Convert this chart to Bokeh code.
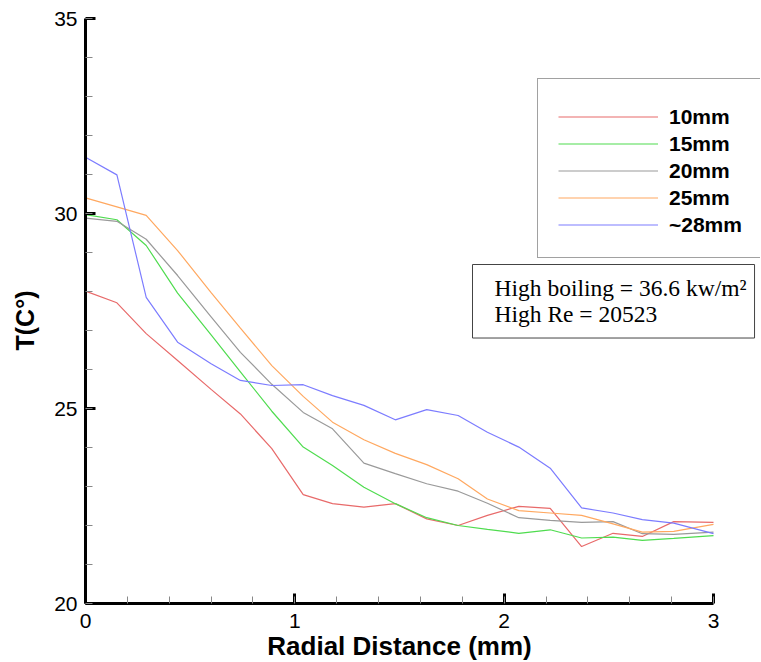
from bokeh.plotting import figure
from bokeh.models import (Range1d, SingleIntervalTicker, Legend, LegendItem, Label, Title)
from bokeh.embed import file_html
from bokeh.resources import INLINE

# radial positions (mm)
x_mm = [0, 0.15, 0.29, 0.44, 0.6, 0.74, 0.89, 1.04, 1.18, 1.33, 1.48,
        1.63, 1.78, 1.92, 2.07, 2.22, 2.37, 2.52, 2.66, 2.81, 3.0]

t_10mm = [28.01, 27.71, 26.92, 26.23, 25.49, 24.86, 23.97, 22.79, 22.56, 22.47, 22.56,
          22.17, 22.0, 22.26, 22.49, 22.44, 21.46, 21.8, 21.72, 22.1, 22.08]
t_15mm = [29.97, 29.84, 29.18, 27.96, 26.89, 25.94, 24.93, 24.01, 23.54, 22.98, 22.56,
          22.2, 22.0, 21.9, 21.8, 21.89, 21.68, 21.7, 21.62, 21.67, 21.74]
t_20mm = [29.88, 29.80, 29.34, 28.41, 27.35, 26.44, 25.62, 24.9, 24.48, 23.6, 23.33,
          23.07, 22.88, 22.57, 22.2, 22.13, 22.08, 22.1, 21.79, 21.77, 21.83]
t_25mm = [30.40, 30.17, 29.95, 29.05, 27.97, 27.06, 26.1, 25.31, 24.65, 24.2, 23.85,
          23.56, 23.2, 22.68, 22.38, 22.32, 22.26, 22.04, 21.83, 21.85, 22.03]
t_28mm = [31.44, 30.99, 27.85, 26.7, 26.15, 25.72, 25.59, 25.61, 25.33, 25.08, 24.71,
          24.97, 24.82, 24.39, 24.01, 23.47, 22.45, 22.32, 22.15, 22.06, 21.79]

series_names = ["10mm", "15mm", "20mm", "25mm", "~28mm"]
series_values = [t_10mm, t_15mm, t_20mm, t_25mm, t_28mm]
series_colors = ["#e86a6a", "#4fdc4f", "#9a9a9a", "#ffa860", "#7c7cff"]

annotation_lines = "High boiling = 36.6 kw/m\u00b2\nHigh Re = 20523"

FONT = "Liberation Sans"

# The drawing area spans nearly the whole page (so the boxes and tick labels are
# not clipped and the x title is centred like the reference); both axes are
# pinned at the data origin and bounded to the data span.
PX_PER_MM = (713 - 85) / 3.0
PX_PER_C = (603 - 18) / 15.0
x_start = -(85 - 38) / PX_PER_MM
x_end = 3 + (760 - 713) / PX_PER_MM
y_start = 20 - (662 - 603) / PX_PER_C
y_end = 35 + 18 / PX_PER_C

p = figure(width=761, height=662, output_backend="svg", toolbar_location=None,
           x_range=Range1d(x_start, x_end), y_range=Range1d(y_start, y_end),
           min_border_left=38, min_border_right=1, min_border_top=0, min_border_bottom=0)
p.outline_line_color = None
p.xgrid.visible = False
p.ygrid.visible = False
p.background_fill_color = "white"
p.border_fill_color = "white"

items = []
for name, vals, col in zip(series_names, series_values, series_colors):
    r = p.line(x_mm, vals, line_color=col, line_width=1.2)
    items.append(LegendItem(label=name, renderers=[r]))

for ax in (p.xaxis[0], p.yaxis[0]):
    ax.axis_line_width = 3
    ax.axis_line_color = "black"
    ax.major_tick_in = 10
    ax.major_tick_out = 0
    ax.major_tick_line_width = 3
    ax.major_tick_line_color = "black"
    ax.minor_tick_in = 7
    ax.minor_tick_out = 0
    ax.minor_tick_line_color = "#888888"
    ax.minor_tick_line_width = 1
    ax.major_label_text_font = FONT
    ax.major_label_text_font_size = "21px"
    ax.major_label_text_color = "black"
    ax.axis_label_text_font = FONT
    ax.axis_label_text_font_style = "bold"
    ax.axis_label_text_font_size = "26px"
    ax.axis_label_text_color = "black"

p.xaxis[0].bounds = (0, 3)
p.yaxis[0].bounds = (20, 35)
p.xaxis[0].fixed_location = 20
p.yaxis[0].fixed_location = 0
p.xaxis[0].ticker = SingleIntervalTicker(interval=1, num_minor_ticks=5)
p.yaxis[0].ticker = SingleIntervalTicker(interval=5, num_minor_ticks=5)
p.xaxis[0].axis_label = "Radial Distance (mm)"
p.xaxis[0].major_label_standoff = 10
p.yaxis[0].major_label_standoff = 8
p.xaxis[0].axis_label_standoff = 0

ytitle = Title(text="T(C\u00b0)", align="left", offset=312, standoff=0,
               text_font=FONT, text_font_style="bold", text_font_size="25px",
               text_color="black")
p.add_layout(ytitle, "left")

legend = Legend(items=items, location=(499, 404),
                title=" ", title_text_font_size="4px", title_standoff=0,
                glyph_width=100, glyph_height=25, label_height=25,
                label_standoff=11, spacing=2, padding=20,
                label_text_font=FONT, label_text_font_style="bold",
                label_text_font_size="21px", label_text_color="black",
                border_line_color="#444444", border_line_width=1,
                background_fill_color="white", background_fill_alpha=1)
p.add_layout(legend, "center")

lab = Label(x=434, y=398, x_units="screen", y_units="screen", text=annotation_lines,
            anchor="top_left", text_font="Liberation Serif", text_font_size="23.5px",
            text_line_height=1.02,
            text_color="black", border_line_color="#444444", border_line_width=1,
            background_fill_color="white", padding=(22, 8, 10, 11))
p.add_layout(lab)

open("out.html", "w").write(file_html(p, INLINE))
